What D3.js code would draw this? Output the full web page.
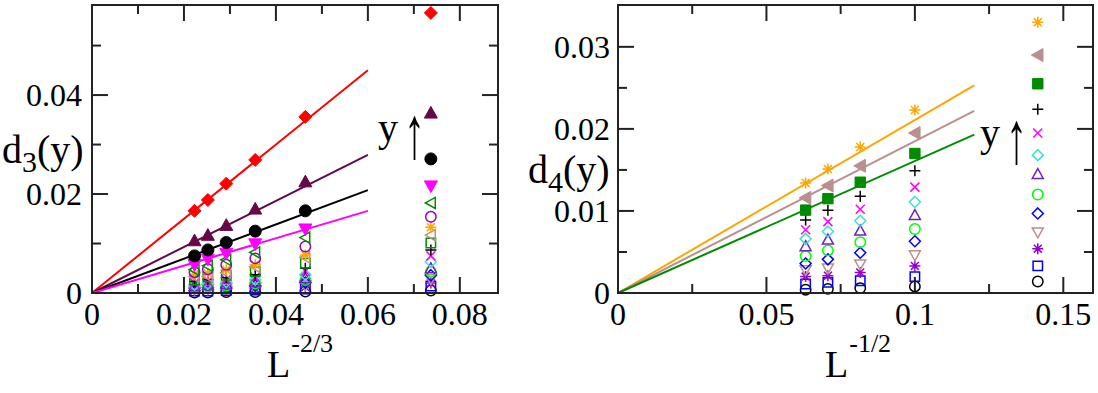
<!DOCTYPE html>
<html><head><meta charset="utf-8">
<script src="https://cdn.jsdelivr.net/npm/d3@7"></script>
<style>body{margin:0;background:#fff}svg{display:block}text{font-family:"Liberation Serif","Times New Roman",serif;fill:#000}</style>
</head><body><svg id="c" width="1098" height="393"></svg>
<script>
// ---------- data: left panel d3(y) vs L^-2/3 ----------
const leftL = [300, 250, 200, 150, 100, 50];
const leftX = [0.0223, 0.0252, 0.0292, 0.0355, 0.0464, 0.0737];
const leftXTicks = [0, 0.02, 0.04, 0.06, 0.08];
const leftYTicks = [0, 0.02, 0.04];
const d3RedDiamond    = [0.0166, 0.0188, 0.0221, 0.0269, 0.0356, 0.0566];
const d3MaroonTri     = [0.0106, 0.0117, 0.0137, 0.0170, 0.0225, 0.0364];
const d3BlackCircle   = [0.0075, 0.0087, 0.0102, 0.0125, 0.0166, 0.0271];
const d3MagentaDown   = [0.0057, 0.0068, 0.0080, 0.0099, 0.0129, 0.0216];
const d3GreenLeft     = [0.0047, 0.0055, 0.0067, 0.0082, 0.0112, 0.0182];
const d3VioletCircle  = [0.0042, 0.0048, 0.0057, 0.0070, 0.0094, 0.0154];
const d3OrangeStar    = [0.0038, 0.0040, 0.0047, 0.0057, 0.0077, 0.0133];
const d3BrownLeft     = [0.0033, 0.0034, 0.0041, 0.0053, 0.0072, 0.0117];
const d3GreenSquare   = [0.0026, 0.0032, 0.0036, 0.0043, 0.0060, 0.0101];
const d3BlackPlus     = [0.0023, 0.0027, 0.0031, 0.0037, 0.0050, 0.0087];
const d3MagentaX      = [0.0020, 0.0023, 0.0027, 0.0032, 0.0044, 0.0075];
const d3TurqDiamond   = [0.0017, 0.0019, 0.0022, 0.0027, 0.0037, 0.0063];
const d3IndigoTri     = [0.0014, 0.0016, 0.0018, 0.0022, 0.0030, 0.0050];
const d3GreenCircle   = [0.0012, 0.0013, 0.0015, 0.0019, 0.0026, 0.0043];
const d3BlueDiamond   = [0.0010, 0.0011, 0.0012, 0.0015, 0.0021, 0.0036];
const d3BrownDown     = [0.0008, 0.0008, 0.0010, 0.0012, 0.0016, 0.0028];
const d3VioletStar    = [0.0005, 0.0006, 0.0007, 0.0009, 0.0012, 0.0020];
const d3BlueSquare    = [0.0004, 0.0004, 0.0005, 0.0006, 0.0008, 0.0014];
const d3BlackOpenCirc = [0.0001, 0.0001, 0.0002, 0.0002, 0.0003, 0.0005];
// linear fits through origin: value at x = 0.06
const leftFitX = 0.06;
const leftFitY = [0.0450, 0.0279, 0.0208, 0.0166];

// ---------- data: right panel d4(y) vs L^-1/2 ----------
const rightL = [250, 200, 150, 100, 50];
const rightX = [0.0632, 0.0707, 0.0816, 0.1, 0.1414];
const rightXTicks = [0, 0.05, 0.1, 0.15];
const rightYTicks = [0, 0.01, 0.02, 0.03];
const d4OrangeStar   = [0.0134, 0.0151, 0.0178, 0.0223, 0.0330];
const d4BrownLeft    = [0.0116, 0.0131, 0.0155, 0.0195, 0.0290];
const d4GreenSquare  = [0.0101, 0.0115, 0.0135, 0.0170, 0.0255];
const d4BlackPlus    = [0.0089, 0.0101, 0.0118, 0.0149, 0.0224];
const d4MagentaX     = [0.0077, 0.0087, 0.0102, 0.0129, 0.0195];
const d4TurqDiamond  = [0.0066, 0.0075, 0.0088, 0.0111, 0.0168];
const d4IndigoTri    = [0.0057, 0.0065, 0.0076, 0.0095, 0.0145];
const d4GreenCircle  = [0.0045, 0.0052, 0.0062, 0.0078, 0.0120];
const d4BlueDiamond  = [0.0036, 0.0041, 0.0049, 0.0063, 0.0097];
const d4BrownDown    = [0.0028, 0.0030, 0.0035, 0.0046, 0.0074];
const d4VioletStar   = [0.0020, 0.0021, 0.0025, 0.0033, 0.0054];
const d4BlueSquare   = [0.0011, 0.0013, 0.0015, 0.0020, 0.0033];
const d4BlackCircle  = [0.0004, 0.0005, 0.0006, 0.0008, 0.0014];
const rightFitX = 0.12;
const rightFitY = [0.0253, 0.0222, 0.0193];

// ---------- styles ----------
const C = {red:"#ff0000", maroon:"#670748", black:"#000000", magenta:"#ff00ff", green4:"#008b00",
  violet:"#9400d3", orange:"#ffa500", brown:"#bc8f8f", turq:"#40e0d0", indigo:"#7221bc",
  green:"#00ff00", blue:"#0000ff"};
const leftSeries = [
  [d3RedDiamond,"diamond",C.red,true,6.5],[d3MaroonTri,"up",C.maroon,true,6.5],
  [d3BlackCircle,"circle",C.black,true,6],[d3MagentaDown,"down",C.magenta,true,6.5],
  [d3GreenLeft,"left",C.green4,false,5.5],[d3VioletCircle,"circle",C.violet,false,5.2],
  [d3OrangeStar,"star",C.orange,false,5.5],[d3BrownLeft,"left",C.brown,false,5.5],
  [d3GreenSquare,"square",C.green4,false,4.7],[d3BlackPlus,"plus",C.black,false,5.5],
  [d3MagentaX,"x",C.magenta,false,4.5],[d3TurqDiamond,"diamond",C.turq,false,5.5],
  [d3IndigoTri,"up",C.indigo,false,5.5],[d3GreenCircle,"circle",C.green,false,5.2],
  [d3BlueDiamond,"diamond",C.blue,false,5.5],[d3BrownDown,"down",C.brown,false,5.5],
  [d3VioletStar,"star",C.violet,false,5.5],[d3BlueSquare,"square",C.blue,false,4.7],
  [d3BlackOpenCirc,"circle",C.black,false,5.2]];
const leftFitColors = [C.red, C.maroon, C.black, C.magenta];
const rightSeries = [
  [d4OrangeStar,"star",C.orange,false,5.5],[d4BrownLeft,"left",C.brown,true,6.5],
  [d4GreenSquare,"square",C.green4,true,5.2],[d4BlackPlus,"plus",C.black,false,5.5],
  [d4MagentaX,"x",C.magenta,false,4.5],[d4TurqDiamond,"diamond",C.turq,false,5.5],
  [d4IndigoTri,"up",C.indigo,false,5.5],[d4GreenCircle,"circle",C.green,false,5.2],
  [d4BlueDiamond,"diamond",C.blue,false,5.5],[d4BrownDown,"down",C.brown,false,5.5],
  [d4VioletStar,"star",C.violet,false,5.5],[d4BlueSquare,"square",C.blue,false,4.7],
  [d4BlackCircle,"circle",C.black,false,5.2]];
const rightFitColors = [C.orange, C.brown, C.green4];

function symPath(t, h){
  switch(t){
    case "circle": return `M${-h},0a${h},${h} 0 1,0 ${2*h},0a${h},${h} 0 1,0 ${-2*h},0Z`;
    case "square": return `M${-h},${-h}H${h}V${h}H${-h}Z`;
    case "diamond": return `M0,${-h}L${h},0L0,${h}L${-h},0Z`;
    case "up": return `M0,${-h}L${h},${h*0.8}L${-h},${h*0.8}Z`;
    case "down": return `M0,${h}L${h},${-h*0.8}L${-h},${-h*0.8}Z`;
    case "left": return `M${-h},0L${h*0.8},${-h}L${h*0.8},${h}Z`;
    case "plus": return `M${-h},0H${h}M0,${-h}V${h}`;
    case "x": return `M${-h},${-h}L${h},${h}M${-h},${h}L${h},${-h}`;
    case "star": {const d=h*0.72; return `M${-h},0H${h}M0,${-h}V${h}M${-d},${-d}L${d},${d}M${-d},${d}L${d},${-d}`;}
  }
}

const svg = d3.select("#c");

function panel(o){
  const x = d3.scaleLinear().domain(o.xDom).range(o.xRange);
  const y = d3.scaleLinear().domain(o.yDom).range(o.yRange);
  const g = svg.append("g");
  const [x0,x1]=o.xRange, [y0,y1]=o.yRange;
  const tk = g.append("g").attr("stroke","#222").attr("stroke-width",2);
  const majX = o.xTicks, minX = d3.range(o.xDom[0], o.xDom[1]+1e-9, o.xMinor);
  const majY = o.yTicks, minY = d3.range(o.yDom[0], o.yDom[1]+1e-9, o.yMinor);
  minX.forEach(v=>{const L = majX.some(m=>Math.abs(m-v)<1e-9)?16:9; const px=x(v);
    if(px<=x0+1||px>=x1-1) return;
    tk.append("line").attr("x1",px).attr("x2",px).attr("y1",y0).attr("y2",y0-L);
    tk.append("line").attr("x1",px).attr("x2",px).attr("y1",y1).attr("y2",y1+L);});
  minY.forEach(v=>{const L = majY.some(m=>Math.abs(m-v)<1e-9)?16:9; const py=y(v);
    if(py>=y0-1||py<=y1+1) return;
    tk.append("line").attr("y1",py).attr("y2",py).attr("x1",x0).attr("x2",x0+L);
    tk.append("line").attr("y1",py).attr("y2",py).attr("x1",x1).attr("x2",x1-L);});
  g.append("g").selectAll("text").data(majX).join("text")
    .attr("x",d=>x(d)).attr("y",y0+32).attr("text-anchor","middle").attr("font-size",32)
    .text(d=>d3.format("")(+d.toFixed(3)));
  g.append("g").selectAll("text").data(majY).join("text")
    .attr("x",x0-o.yLabGap).attr("y",d=>y(d)+11).attr("text-anchor","end").attr("font-size",32)
    .text(d=>d3.format("")(+d.toFixed(3)));
  g.append("g").selectAll("line").data(o.fitY).join("line")
    .attr("x1",x(0)).attr("y1",y(0)).attr("x2",x(o.fitX)).attr("y2",d=>y(d))
    .attr("stroke",(d,i)=>o.fitColors[i]).attr("stroke-width",2);
  const mg = g.append("g");
  o.series.slice().reverse().forEach(([vals,t,col,filled,h])=>{
    mg.append("g").selectAll("path").data(vals).join("path")
      .attr("transform",(d,i)=>`translate(${x(o.xs[i])},${y(d)})`)
      .attr("d",symPath(t,h))
      .attr("fill",filled?col:"none").attr("stroke",col).attr("stroke-width",filled?1:1.5);
  });
  g.append("rect").attr("x",x0).attr("y",y1).attr("width",x1-x0).attr("height",y0-y1)
    .attr("fill","none").attr("stroke","#222").attr("stroke-width",2);
  return {x,y,g};
}

panel({xDom:[0,0.0883], xRange:[92,498], yDom:[0,0.0582], yRange:[293,5],
  xTicks:leftXTicks, yTicks:leftYTicks, xMinor:0.01, yMinor:0.01, yLabGap:10,
  xs:leftX, series:leftSeries, fitX:leftFitX, fitY:leftFitY, fitColors:leftFitColors});
panel({xDom:[0,0.16], xRange:[618,1093], yDom:[0,0.0351], yRange:[293,5],
  xTicks:rightXTicks, yTicks:rightYTicks, xMinor:0.025, yMinor:0.005, yLabGap:8,
  xs:rightX, series:rightSeries, fitX:rightFitX, fitY:rightFitY, fitColors:rightFitColors});

function ylab(x0, base, sub){
  const t = svg.append("text").attr("x",x0).attr("y",base).attr("font-size",40);
  t.append("tspan").text("d");
  t.append("tspan").attr("dy",9).attr("font-size",30).text(sub);
  t.append("tspan").attr("dy",-9).text("(y)");
}
ylab(2,163,"3"); ylab(528,183,"4");
function xlab(x0, sup){
  const t = svg.append("text").attr("x",x0).attr("y",377).attr("font-size",38);
  t.append("tspan").text("L");
  t.append("tspan").attr("dy",-25).attr("dx",1).attr("font-size",26).text(sup);
}
xlab(267,"-2/3"); xlab(825,"-1/2");
function yarrow(x0, base, arrowBase){
  svg.append("text").attr("x",x0).attr("y",base).attr("font-size",40).text("y");
  svg.append("g").attr("transform",`translate(${x0+26},${arrowBase}) scale(1.05,1.85)`)
    .append("text").attr("x",0).attr("y",0).attr("font-size",40).text("↑");
}
yarrow(378,141,158); yarrow(980,146,163);
</script></body></html>
